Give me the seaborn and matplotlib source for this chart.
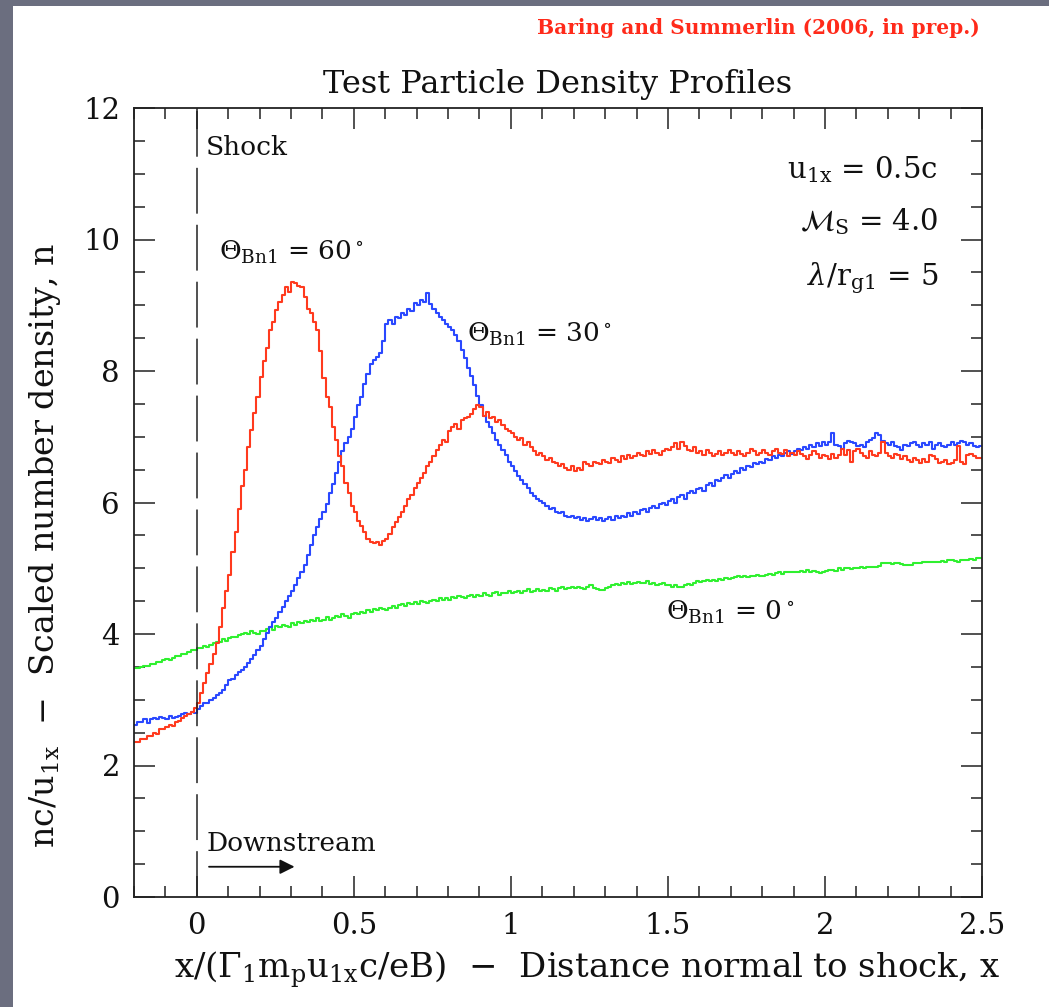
import numpy as np
import pandas as pd
import matplotlib
matplotlib.use("Agg")
import matplotlib.pyplot as plt
from matplotlib.patches import Rectangle
from matplotlib.ticker import MultipleLocator
import seaborn as sns

# Binned test-particle densities, bins of width 0.01 from x = -0.2 to 2.5
x_start, bin_width = -0.2, 0.01

n_theta60 = [
    2.36, 2.36, 2.40, 2.40, 2.45, 2.45, 2.50, 2.48, 2.55, 2.55, 2.58, 2.62, 2.60, 2.66, 2.68, 2.72, 2.76, 2.78, 2.82, 2.88,
    2.95, 3.10, 3.25, 3.40, 3.55, 3.70, 3.86, 4.10, 4.40, 4.65,
    4.90, 5.25, 5.55, 5.90, 6.25, 6.50, 6.85, 7.10, 7.36, 7.60,
    7.91, 8.15, 8.35, 8.62, 8.75, 8.93, 9.05, 9.15, 9.28, 9.20,
    9.36, 9.34, 9.30, 9.28, 9.12, 8.95, 8.88, 8.75, 8.62, 8.30,
    7.90, 7.60, 7.45, 7.15, 6.95, 6.70, 6.55, 6.30, 6.15, 5.95,
    5.85, 5.72, 5.65, 5.55, 5.45, 5.40, 5.38, 5.40, 5.36, 5.42,
    5.45, 5.52, 5.62, 5.70, 5.78, 5.85, 5.95, 6.05, 6.12, 6.22,
    6.30, 6.38, 6.45, 6.55, 6.62, 6.70, 6.80, 6.88, 6.95, 6.92,
    7.08, 7.15, 7.20, 7.12, 7.25, 7.28, 7.30, 7.35, 7.42, 7.48,
    7.46, 7.32, 7.38, 7.28, 7.30, 7.22, 7.25, 7.18, 7.12, 7.08,
    7.05, 7.00, 6.95, 6.98, 6.88, 6.92, 6.85, 6.78, 6.72, 6.75,
    6.70, 6.65, 6.68, 6.62, 6.60, 6.55, 6.58, 6.52, 6.50, 6.55,
    6.48, 6.52, 6.50, 6.62, 6.58, 6.55, 6.62, 6.60, 6.58, 6.65,
    6.62, 6.60, 6.68, 6.65, 6.62, 6.70, 6.66, 6.72, 6.68, 6.70,
    6.75, 6.72, 6.70, 6.78, 6.74, 6.80, 6.76, 6.72, 6.78, 6.82,
    6.80, 6.85, 6.90, 6.82, 6.92, 6.86, 6.80, 6.78, 6.84, 6.75,
    6.78, 6.72, 6.80, 6.76, 6.70, 6.74, 6.78, 6.72, 6.76, 6.80,
    6.76, 6.72, 6.78, 6.74, 6.70, 6.76, 6.82, 6.78, 6.72, 6.75,
    6.80, 6.76, 6.72, 6.78, 6.82, 6.76, 6.74, 6.80, 6.70, 6.76,
    6.72, 6.78, 6.74, 6.70, 6.66, 6.72, 6.78, 6.74, 6.68, 6.72,
    6.70, 6.66, 6.74, 6.68, 6.72, 6.82, 6.72, 6.80, 6.62, 6.78,
    6.82, 6.75, 6.70, 6.68, 6.78, 6.72, 6.70, 6.76, 6.92, 6.76,
    6.70, 6.68, 6.74, 6.72, 6.66, 6.70, 6.65, 6.62, 6.68, 6.64,
    6.60, 6.66, 6.62, 6.72, 6.70, 6.66, 6.60, 6.62, 6.64, 6.58,
    6.60, 6.64, 6.86, 6.62, 6.58, 6.72, 6.74, 6.70, 6.68, 6.68,
]

n_theta30 = [
    2.62, 2.66, 2.66, 2.70, 2.65, 2.70, 2.72, 2.70, 2.74, 2.72, 2.70, 2.75, 2.72, 2.74, 2.76, 2.78, 2.80, 2.78, 2.82, 2.80,
    2.86, 2.90, 2.95, 2.95, 3.00, 3.02, 3.07, 3.10, 3.15, 3.22,
    3.30, 3.32, 3.38, 3.42, 3.46, 3.50, 3.56, 3.62, 3.68, 3.75,
    3.82, 3.92, 4.01, 4.10, 4.18, 4.25, 4.34, 4.41, 4.50, 4.58,
    4.66, 4.75, 4.85, 4.95, 5.05, 5.20, 5.35, 5.50, 5.62, 5.75,
    5.85, 5.98, 6.15, 6.28, 6.45, 6.62, 6.78, 6.90, 7.00, 7.12,
    7.30, 7.48, 7.60, 7.80, 7.96, 8.10, 8.17, 8.22, 8.27, 8.45,
    8.72, 8.78, 8.72, 8.82, 8.80, 8.88, 8.85, 8.95, 8.92, 9.03,
    9.00, 9.08, 9.05, 9.18, 9.02, 8.95, 8.88, 8.82, 8.78, 8.72,
    8.67, 8.62, 8.55, 8.45, 8.32, 8.20, 8.05, 7.92, 7.78, 7.62,
    7.48, 7.32, 7.22, 7.15, 7.05, 6.95, 6.88, 6.80, 6.72, 6.62,
    6.55, 6.48, 6.40, 6.34, 6.28, 6.22, 6.14, 6.10, 6.05, 6.02,
    5.99, 5.94, 5.90, 5.92, 5.86, 5.84, 5.86, 5.80, 5.78, 5.80,
    5.76, 5.78, 5.74, 5.76, 5.72, 5.75, 5.78, 5.74, 5.76, 5.72,
    5.75, 5.78, 5.74, 5.80, 5.76, 5.80, 5.78, 5.84, 5.80, 5.86,
    5.82, 5.88, 5.90, 5.86, 5.92, 5.95, 5.92, 5.98, 6.00, 5.96,
    6.02, 6.05, 6.00, 6.08, 6.12, 6.06, 6.15, 6.18, 6.14, 6.20,
    6.22, 6.18, 6.26, 6.30, 6.25, 6.34, 6.32, 6.38, 6.42, 6.38,
    6.44, 6.48, 6.45, 6.52, 6.50, 6.56, 6.54, 6.60, 6.58, 6.62,
    6.60, 6.66, 6.64, 6.70, 6.68, 6.72, 6.70, 6.75, 6.78, 6.74,
    6.78, 6.82, 6.80, 6.85, 6.82, 6.88, 6.84, 6.90, 6.86, 6.92,
    6.88, 6.92, 7.05, 6.88, 6.86, 6.82, 6.90, 6.94, 6.92, 6.90,
    6.86, 6.88, 6.84, 6.92, 6.95, 6.98, 7.05, 7.02, 6.94, 6.90,
    6.88, 6.92, 6.86, 6.84, 6.80, 6.88, 6.86, 6.90, 6.92, 6.88,
    6.85, 6.90, 6.88, 6.92, 6.82, 6.88, 6.90, 6.86, 6.84, 6.88,
    6.92, 6.88, 6.90, 6.94, 6.92, 6.88, 6.90, 6.86, 6.84, 6.86,
]

n_theta0 = [
    3.48, 3.48, 3.50, 3.52, 3.52, 3.55, 3.55, 3.58, 3.58, 3.60, 3.62, 3.60, 3.64, 3.66, 3.66, 3.70, 3.70, 3.72, 3.75, 3.76,
    3.78, 3.78, 3.82, 3.80, 3.84, 3.86, 3.88, 3.88, 3.92, 3.90,
    3.94, 3.96, 3.95, 3.98, 4.00, 4.02, 4.00, 4.04, 4.02, 4.00,
    4.05, 4.04, 4.08, 4.10, 4.06, 4.12, 4.10, 4.14, 4.12, 4.10,
    4.16, 4.14, 4.18, 4.16, 4.20, 4.18, 4.22, 4.20, 4.24, 4.20,
    4.22, 4.26, 4.22, 4.24, 4.28, 4.26, 4.30, 4.28, 4.25, 4.30,
    4.32, 4.30, 4.34, 4.32, 4.36, 4.34, 4.38, 4.36, 4.40, 4.38,
    4.36, 4.40, 4.42, 4.40, 4.44, 4.46, 4.42, 4.47, 4.45, 4.48,
    4.46, 4.50, 4.48, 4.47, 4.50, 4.52, 4.50, 4.54, 4.52, 4.55,
    4.52, 4.56, 4.54, 4.58, 4.56, 4.55, 4.58, 4.60, 4.57, 4.60,
    4.58, 4.62, 4.60, 4.58, 4.62, 4.64, 4.60, 4.63, 4.62, 4.66,
    4.62, 4.64, 4.66, 4.62, 4.65, 4.68, 4.64, 4.66, 4.68, 4.65,
    4.67, 4.66, 4.70, 4.68, 4.66, 4.70, 4.72, 4.68, 4.70, 4.72,
    4.70, 4.72, 4.70, 4.68, 4.72, 4.74, 4.70, 4.68, 4.67, 4.67,
    4.70, 4.72, 4.74, 4.76, 4.74, 4.78, 4.76, 4.79, 4.76, 4.78,
    4.79, 4.78, 4.78, 4.80, 4.76, 4.78, 4.74, 4.76, 4.77, 4.74,
    4.74, 4.72, 4.74, 4.71, 4.72, 4.74, 4.76, 4.74, 4.78, 4.80,
    4.79, 4.80, 4.82, 4.80, 4.82, 4.81, 4.84, 4.82, 4.85, 4.84,
    4.85, 4.86, 4.88, 4.86, 4.88, 4.87, 4.88, 4.88, 4.90, 4.88,
    4.88, 4.90, 4.92, 4.90, 4.93, 4.94, 4.92, 4.94, 4.95, 4.94,
    4.94, 4.95, 4.96, 4.95, 4.97, 4.95, 4.96, 4.94, 4.93, 4.94,
    4.96, 4.98, 4.98, 4.96, 5.00, 4.98, 5.00, 5.01, 4.99, 5.01,
    5.01, 5.02, 5.00, 5.02, 5.02, 5.02, 5.02, 5.04, 5.08, 5.08,
    5.08, 5.06, 5.08, 5.08, 5.07, 5.05, 5.05, 5.05, 5.08, 5.08,
    5.08, 5.09, 5.09, 5.10, 5.10, 5.10, 5.09, 5.11, 5.10, 5.12,
    5.12, 5.11, 5.10, 5.12, 5.13, 5.12, 5.14, 5.12, 5.16, 5.16,
]

series_colors = {"60": "#ff3a1e", "30": "#2a48ff", "0": "#2ff02f"}

x_ticks = [0, 0.5, 1, 1.5, 2, 2.5]
x_ticklabels = ["0", "0.5", "1", "1.5", "2", "2.5"]
y_ticks = [0, 2, 4, 6, 8, 10, 12]
y_ticklabels = ["0", "2", "4", "6", "8", "10", "12"]


def step_frame(values, name):
    n = len(values)
    edges = x_start + bin_width * np.arange(n + 1)
    return pd.DataFrame({"x": edges, "n": list(values) + [values[-1]], "theta": name})


df = pd.concat([
    step_frame(n_theta60, "60"),
    step_frame(n_theta30, "30"),
    step_frame(n_theta0, "0"),
], ignore_index=True)

sns.set_theme(style="ticks")
plt.rcParams["font.family"] = ["DejaVu Serif"]
plt.rcParams["mathtext.fontset"] = "dejavuserif"
plt.rcParams["lines.scale_dashes"] = False

W, H = 1049, 1007
fig = plt.figure(figsize=(W / 100, H / 100), dpi=100, facecolor="#6b6e7f")
fig.patches.append(Rectangle((13 / W, 0), 1, 1 - 6 / H, transform=fig.transFigure,
                             facecolor="white", edgecolor="none", zorder=-10))

ax = fig.add_axes([134 / W, 1 - 897 / H, (982 - 134) / W, (897 - 108) / H])
ax.set_zorder(5)
ax.set_facecolor("white")

for name in ["0", "30", "60"]:
    sns.lineplot(data=df[df["theta"] == name], x="x", y="n", ax=ax,
                 drawstyle="steps-post", estimator=None, sort=False,
                 color=series_colors[name], linewidth=1.5, legend=False)

# Shock position
shock = ax.axvline(0, color="#222222", linewidth=1.1)
shock.set_dashes((33, 8))

ax.set_xlim(-0.2, 2.5)
ax.set_ylim(0, 12)
ax.set_xticks(x_ticks)
ax.set_xticklabels(x_ticklabels)
ax.set_yticks(y_ticks)
ax.set_yticklabels(y_ticklabels)
ax.xaxis.set_minor_locator(MultipleLocator(0.1))
ax.yaxis.set_minor_locator(MultipleLocator(0.5))
ax.tick_params(which="both", direction="in", top=True, right=True,
               color="#222222", width=1.1, labelsize=21, labelcolor="#111111")
ax.tick_params(which="major", length=15)
ax.tick_params(which="minor", length=8)
ax.tick_params(axis="x", which="major", pad=11)
ax.tick_params(axis="y", which="major", pad=10)
for sp in ax.spines.values():
    sp.set_color("#222222")
    sp.set_linewidth(1.3)
    sp.set_visible(True)

ax.set_title("Test Particle Density Profiles", fontsize=23, pad=11, color="#111111")
ax.set_xlabel(r"x/($\Gamma_1$m$_\mathrm{p}$u$_\mathrm{1x}$c/eB)  $-$  Distance normal to shock, x",
              fontsize=24.5, color="#111111")
ax.xaxis.set_label_coords(0.534, -0.066)
ax.set_ylabel(r"nc/u$_\mathrm{1x}$  $-$  Scaled number density, n", fontsize=24, color="#111111")
ax.yaxis.set_label_coords(-0.105, 0.445)
ax.yaxis.label.set_va("center")

txt = dict(fontsize=19, color="#111111")
ax.text(0.03, 11.4, "Shock", va="center", ha="left", **txt)
ax.text(0.03, 0.82, "Downstream", va="center", ha="left", **txt)
ax.annotate("", xy=(0.32, 0.46), xytext=(0.03, 0.46),
            arrowprops=dict(arrowstyle="-|>", color="#111111", lw=1.3, mutation_scale=22))

ax.text(0.07, 9.8, r"$\Theta_\mathrm{Bn1}$ = 60$^\circ$", va="center", ha="left", **txt)
ax.text(0.86, 8.55, r"$\Theta_\mathrm{Bn1}$ = 30$^\circ$", va="center", ha="left", **txt)
ax.text(1.495, 4.33, r"$\Theta_\mathrm{Bn1}$ = 0$^\circ$", va="center", ha="left", **txt)

rtxt = dict(fontsize=21, color="#111111")
ax.text(2.36, 11.06, r"u$_\mathrm{1x}$ = 0.5c", va="center", ha="right", **rtxt)
ax.text(2.36, 10.27, r"$\mathcal{M}_\mathrm{S}$ = 4.0", va="center", ha="right", **rtxt)
ax.text(2.36, 9.41, r"$\lambda$/r$_\mathrm{g1}$ = 5", va="center", ha="right", **rtxt)

fig.text(980 / W, 1 - 28 / H, "Baring and Summerlin (2006, in prep.)", ha="right", va="center",
         fontsize=14.5, fontweight="bold", color="#ff2a1a")

fig.savefig("out.png", dpi=100, facecolor=fig.get_facecolor())
